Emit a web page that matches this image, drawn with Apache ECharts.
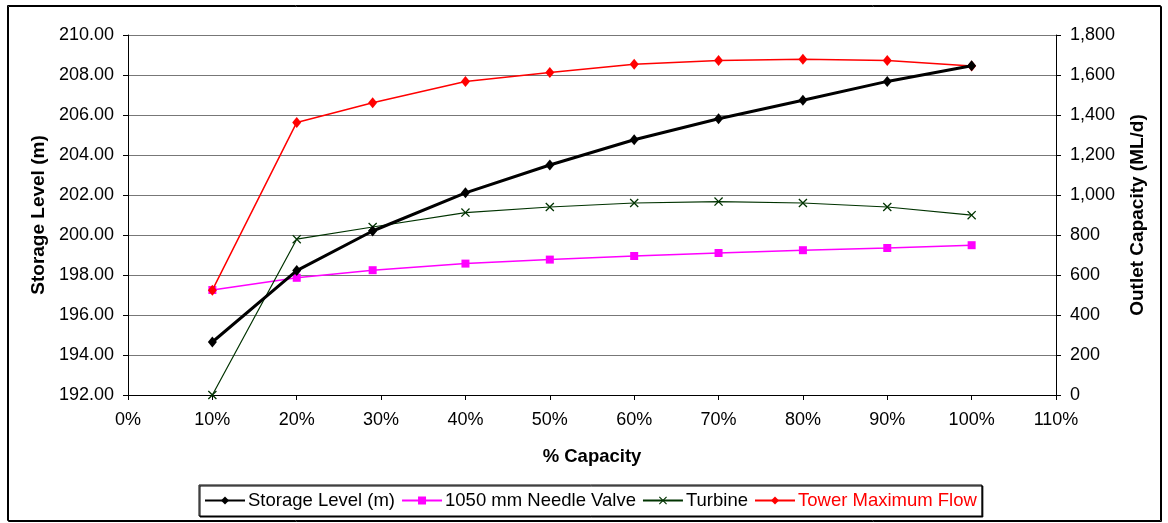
<!DOCTYPE html>
<html>
<head>
<meta charset="utf-8">
<script src="https://cdn.jsdelivr.net/npm/echarts@6/dist/echarts.min.js"></script>
<style>
html,body{margin:0;padding:0;background:#fff;}
#chart{width:1168px;height:523px;}
</style>
</head>
<body>
<div id="chart"></div>
<script>
// % capacity (x values)
const capacity = [10, 20, 29, 40, 50, 60, 70, 80, 90, 100];
// Storage level (m) - left axis
const storageLevel = [194.65, 198.22, 200.20, 202.11, 203.50, 204.76, 205.81, 206.74, 207.68, 208.46];
// Outlet capacities (ML/d) - right axis
const needleValve = [525, 586, 624, 657, 677, 695, 710, 724, 735, 749];
const turbine = [0, 779, 840, 912, 940, 960, 967, 960, 940, 899];
const towerMaxFlow = [524, 1363, 1461, 1568, 1612, 1654, 1672, 1679, 1672, 1645];

const seriesNames = ['Storage Level (m)', '1050 mm Needle Valve', 'Turbine', 'Tower Maximum Flow'];
const xAxisTitle = '% Capacity';
const leftAxisTitle = 'Storage Level (m)';
const rightAxisTitle = 'Outlet Capacity (ML/d)';

const pair = arr => capacity.map((c, i) => [c, arr[i]]);
const FONT = 'Liberation Sans, Arial, sans-serif';
const xSymbol = 'path://M0,1 L1,0 L5,4 L9,0 L10,1 L6,5 L10,9 L9,10 L5,6 L1,10 L0,9 L4,5 Z';

const chart = echarts.init(document.getElementById('chart'), null, {renderer: 'canvas'});
chart.setOption({
  animation: false,
  backgroundColor: '#fff',
  textStyle: {fontFamily: FONT},
  graphic: [{
    type: 'rect',
    shape: {x: 7.5, y: 5.5, width: 1153, height: 515},
    style: {fill: 'none', stroke: '#000', lineWidth: 1, shadowColor: '#000', shadowOffsetX: 1, shadowOffsetY: 1},
    z: -1
  }],
  grid: {left: 128, right: 112, top: 35, bottom: 128, containLabel: false},
  legend: {
    left: 199, top: 485,
    padding: [6, 5, 6, 5],
    itemGap: 6,
    itemWidth: 40, itemHeight: 10,
    backgroundColor: '#fff',
    borderColor: '#000', borderWidth: 1,
    shadowColor: '#000', shadowOffsetX: 1, shadowOffsetY: 1, shadowBlur: 0,
    textStyle: {fontFamily: FONT, fontSize: 18.5, color: '#000', padding: [0, 0, 0, -2]},
    data: [
      {name: seriesNames[0]},
      {name: seriesNames[1]},
      {name: seriesNames[2]},
      {name: seriesNames[3], textStyle: {color: '#ff0000'}}
    ]
  },
  xAxis: {
    type: 'value', min: 0, max: 110, interval: 10,
    name: xAxisTitle, nameLocation: 'middle', nameGap: 52,
    nameTextStyle: {fontFamily: FONT, fontSize: 18.5, fontWeight: 'bold', color: '#000'},
    axisLine: {show: true, lineStyle: {color: '#000', width: 1}},
    axisTick: {show: true, length: 5, lineStyle: {color: '#000'}},
    axisLabel: {formatter: v => v + '%', fontSize: 18, color: '#000', margin: 16, fontFamily: FONT},
    splitLine: {show: false}
  },
  yAxis: [{
    type: 'value', min: 192, max: 210, interval: 2, position: 'left',
    name: leftAxisTitle, nameLocation: 'middle', nameGap: 80, nameRotate: 90,
    nameTextStyle: {fontFamily: FONT, fontSize: 19, fontWeight: 'bold', color: '#000'},
    axisLine: {show: true, lineStyle: {color: '#000', width: 1}},
    axisTick: {show: true, length: 5, lineStyle: {color: '#000'}},
    axisLabel: {formatter: v => v.toFixed(2), fontSize: 18, color: '#000', margin: 14, fontFamily: FONT},
    splitLine: {show: true, lineStyle: {color: '#777777', width: 1}}
  }, {
    type: 'value', min: 0, max: 1800, interval: 200, position: 'right',
    name: rightAxisTitle, nameLocation: 'middle', nameGap: 72, nameRotate: 90,
    nameTextStyle: {fontFamily: FONT, fontSize: 19, fontWeight: 'bold', color: '#000'},
    axisLine: {show: true, lineStyle: {color: '#000', width: 1}},
    axisTick: {show: true, length: 5, lineStyle: {color: '#000'}},
    axisLabel: {formatter: v => v.toLocaleString('en-US'), fontSize: 18, color: '#000', margin: 14, fontFamily: FONT},
    splitLine: {show: false}
  }],
  series: [{
    name: seriesNames[0], type: 'line', yAxisIndex: 0,
    data: pair(storageLevel),
    symbol: 'diamond', symbolSize: [9, 11], z: 5,
    lineStyle: {color: '#000', width: 3},
    itemStyle: {color: '#000'}
  }, {
    name: seriesNames[1], type: 'line', yAxisIndex: 1,
    data: pair(needleValve),
    symbol: 'rect', symbolSize: 8, z: 3,
    lineStyle: {color: '#ff00ff', width: 1.5},
    itemStyle: {color: '#ff00ff'}
  }, {
    name: seriesNames[2], type: 'line', yAxisIndex: 1,
    data: pair(turbine),
    symbol: xSymbol, symbolSize: 9, z: 3,
    lineStyle: {color: '#003300', width: 1.2},
    itemStyle: {color: '#003300'}
  }, {
    name: seriesNames[3], type: 'line', yAxisIndex: 1,
    data: pair(towerMaxFlow),
    symbol: 'diamond', symbolSize: [9, 11], z: 4,
    lineStyle: {color: '#ff0000', width: 1.5},
    itemStyle: {color: '#ff0000'}
  }]
});
</script>
</body>
</html>
